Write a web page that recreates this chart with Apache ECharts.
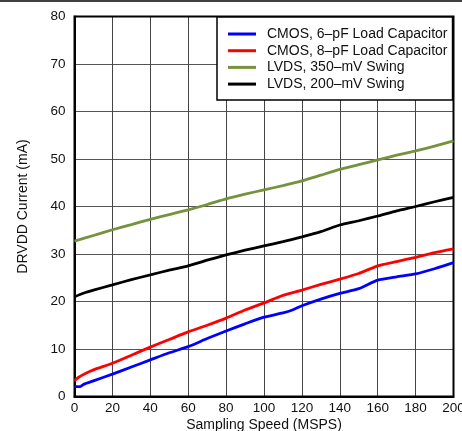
<!DOCTYPE html>
<html>
<head>
<meta charset="utf-8">
<script src="https://cdn.jsdelivr.net/npm/echarts@6/dist/echarts.min.js"></script>
<style>
html,body{margin:0;padding:0;background:#fff;}
#chart{width:462px;height:431px;}
</style>
</head>
<body>
<div id="chart"></div>
<script>
const seriesNames = ['CMOS, 6\u2013pF Load Capacitor', 'CMOS, 8\u2013pF Load Capacitor', 'LVDS, 350\u2013mV Swing', 'LVDS, 200\u2013mV Swing'];
const xTicks = [0, 20, 40, 60, 80, 100, 120, 140, 160, 180, 200];
const yTicks = [0, 10, 20, 30, 40, 50, 60, 70, 80];

const cmos6pF = [[0,2.1],[3,2.1],[5,2.6],[10,3.3],[20,4.7],[30,6.2],[40,7.7],[50,9.2],[60,10.5],[70,12.2],[80,13.8],[90,15.3],[100,16.7],[110,17.6],[115,18.2],[120,19.1],[130,20.5],[140,21.7],[150,22.7],[160,24.5],[170,25.2],[180,25.8],[190,26.9],[200,28.2]];
const cmos8pF = [[0,3.3],[2,4.0],[5,4.7],[10,5.6],[20,7.0],[30,8.7],[40,10.4],[50,12.0],[60,13.6],[70,15.0],[80,16.5],[90,18.2],[100,19.7],[110,21.3],[120,22.4],[130,23.6],[140,24.7],[150,25.9],[160,27.5],[170,28.4],[180,29.3],[190,30.3],[200,31.1]];
const lvds350 = [[0,32.7],[10,33.9],[20,35.1],[30,36.2],[40,37.3],[50,38.3],[60,39.3],[70,40.4],[80,41.6],[90,42.6],[100,43.5],[110,44.4],[120,45.4],[130,46.6],[140,47.8],[150,48.8],[160,49.8],[170,50.8],[180,51.7],[190,52.7],[200,53.8]];
const lvds200 = [[0,21.0],[5,21.8],[10,22.4],[20,23.5],[30,24.6],[40,25.6],[50,26.6],[60,27.5],[70,28.7],[80,29.8],[90,30.8],[100,31.7],[110,32.6],[120,33.6],[130,34.7],[140,36.1],[150,37.0],[160,38.0],[170,39.1],[180,40.0],[190,41.0],[200,41.9]];

const colors = ['#0000ff', '#ff0000', '#76923c', '#000000'];
const dataSets = [cmos6pF, cmos8pF, lvds350, lvds200];
const FONT = 'Liberation Sans, Arial, sans-serif';

const chart = echarts.init(document.getElementById('chart'), null, {renderer: 'canvas'});
chart.setOption({
  animation: false,
  backgroundColor: '#ffffff',
  grid: {left: 74.5, top: 16.5, right: 8.5, bottom: 34.5, containLabel: false, outerBoundsMode: 'none', show: true, borderColor: '#000', borderWidth: 2, z: 3},
  xAxis: {
    type: 'value', min: xTicks[0], max: xTicks[xTicks.length-1], interval: 20,
    name: 'Sampling Speed (MSPS)', nameLocation: 'middle', nameGap: 22, nameMoveOverlap: false,
    nameTextStyle: {fontFamily: FONT, fontSize: 14, color: '#111'},
    axisLine: {show: true, lineStyle: {color: '#000', width: 2}},
    axisTick: {show: false},
    axisLabel: {fontFamily: FONT, fontSize: 13.5, color: '#111', margin: 5},
    splitLine: {show: true, lineStyle: {color: '#444', width: 1}}
  },
  yAxis: {
    type: 'value', min: yTicks[0], max: yTicks[yTicks.length-1], interval: 10,
    name: 'DRVDD Current (mA)', nameLocation: 'middle', nameGap: 44, nameRotate: 90, nameMoveOverlap: false,
    nameTextStyle: {fontFamily: FONT, fontSize: 14, color: '#111'},
    axisLine: {show: true, lineStyle: {color: '#000', width: 2}},
    axisTick: {show: false},
    axisLabel: {fontFamily: FONT, fontSize: 13.5, color: '#111', margin: 9},
    splitLine: {show: true, lineStyle: {color: '#555', width: 1}}
  },
  legend: {
    orient: 'vertical', left: 217, top: 17,
    padding: [9, 5, 8, 11],
    itemWidth: 28, itemHeight: 3, itemGap: 0.7, icon: 'rect',
    backgroundColor: '#fff', borderColor: '#000', borderWidth: 1.5,
    textStyle: {fontFamily: FONT, fontSize: 14, color: '#111', lineHeight: 16, padding: [0, 0, 0, 6]},
    data: seriesNames, z: 10
  },
  graphic: [
    {type: 'line', shape: {x1: 0, y1: 1, x2: 462, y2: 1}, style: {stroke: '#000', lineWidth: 1.5}}
  ],
  series: dataSets.map((d, i) => ({
    name: seriesNames[i], type: 'line', data: d, showSymbol: false, smooth: 0.2,
    lineStyle: {color: colors[i], width: 2.8}, itemStyle: {color: colors[i]}
  }))
});
</script>
</body>
</html>
